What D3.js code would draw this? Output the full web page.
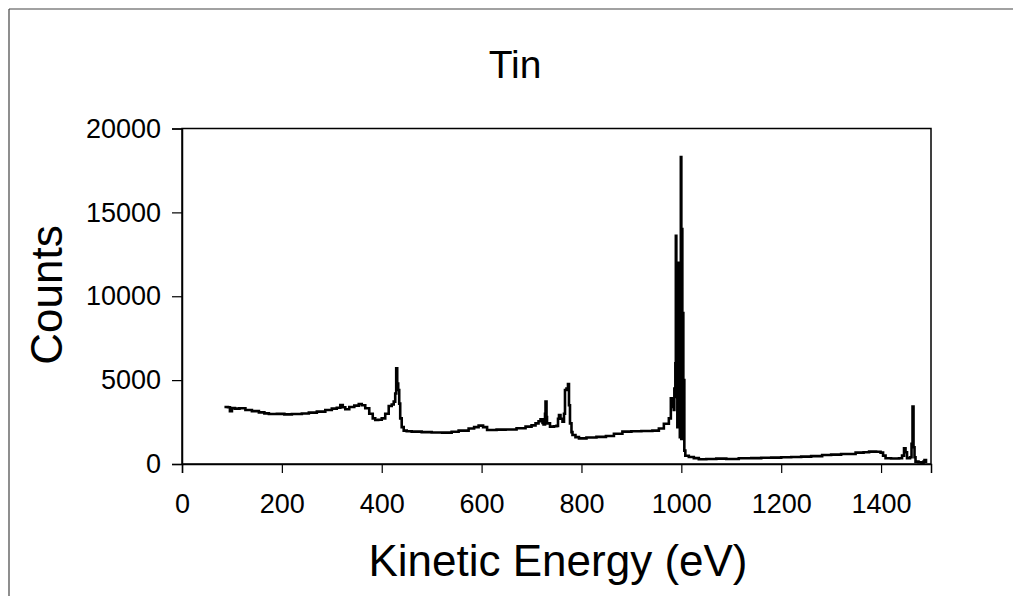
<!DOCTYPE html>
<html>
<head>
<meta charset="utf-8">
<script src="https://cdn.jsdelivr.net/npm/d3@7"></script>
<style>
  body { margin: 0; background: #fff; }
  text { font-family: Arial, "Liberation Sans", sans-serif; fill: #000; }
</style>
</head>
<body>
<div id="chart"></div>
<script>
// Tin – XPS survey spectrum (counts vs kinetic energy)

const energy = [
  85, 92, 96, 100, 106, 115, 127, 140, 154, 165, 174, 190, 205, 220, 240, 254, 270, 287,
  300, 310, 317, 322, 327, 335, 345, 354, 360, 367, 375, 382, 387, 393, 400, 407, 414,
  420, 424, 427, 429, 431, 433, 435, 437, 440, 444, 450, 460, 480, 500, 521, 540, 554,
  574, 585, 594, 603, 611, 630, 648, 670, 688, 700, 708, 714, 718, 722, 724, 727, 728,
  730, 731, 737, 745, 750, 753, 755, 758, 762, 765, 767, 770, 773, 775, 777, 780, 782,
  788, 795, 810, 830, 849, 865, 882, 900, 920, 942, 955, 965, 975, 979, 982, 985, 986,
  988, 989, 990, 991, 992, 994, 995, 996, 997, 998, 999, 1000, 1001, 1002, 1003, 1004,
  1005, 1006, 1008, 1015, 1025, 1035, 1050, 1070, 1090, 1115, 1140, 1160, 1180, 1200,
  1220, 1240, 1260, 1282, 1300, 1320, 1349, 1365, 1376, 1390, 1399, 1404, 1409, 1420,
  1436, 1442, 1446, 1449, 1452, 1458, 1461, 1463, 1465, 1467, 1469, 1475, 1481, 1485,
  1487, 1490
];
const counts = [
  3400, 3380, 3150, 3330, 3300, 3320, 3220, 3150, 3080, 3020, 2980, 2990, 2960, 2980, 3010, 3060, 3120, 3220,
  3300, 3350, 3520, 3380, 3260, 3400, 3480, 3580, 3500, 3320, 3000, 2720, 2620, 2640, 2720, 3000, 3460,
  3550, 3720, 4200, 5700, 4800, 4410, 3600, 2720, 2200, 1990, 1950, 1930, 1900, 1880, 1870, 1920, 1990,
  2120, 2200, 2290, 2200, 2030, 2050, 2060, 2130, 2230, 2300, 2420, 2550, 2660, 2450, 2360, 3000, 3720,
  2800, 2420, 2230, 2250, 2270, 2700, 2920, 2700, 2520, 3000, 4410, 4500, 4770, 3500, 2420, 1900, 1730,
  1600, 1530, 1580, 1620, 1670, 1800, 1930, 1950, 1970, 1990, 2120, 2400, 2720, 3920, 3400, 3220, 4500,
  6000, 13600, 4000, 9000, 2200, 12000, 3000, 8000, 1600, 10500, 18300, 1500, 14000, 2500, 9000, 1500,
  5000, 800, 490, 420, 350, 280, 300, 320, 300, 340, 350, 370, 380, 400,
  420, 440, 470, 540, 560, 600, 680, 700, 740, 730, 680, 500, 340, 330,
  340, 500, 930, 700, 340, 400, 1200, 3420, 1000, 400, 140, 100, 80, 150,
  240, 60
];
const xTicks = [0, 200, 400, 600, 800, 1000, 1200, 1400];
const yTicks = [0, 5000, 10000, 15000, 20000];

const width = 1013, height = 596;
const plot = { left: 182, right: 931, top: 128.5, bottom: 464 };

const svg = d3.select("#chart").append("svg")
  .attr("width", width).attr("height", height);

// page frame (scanned figure border)
svg.append("line").attr("x1", 9).attr("y1", 9).attr("x2", width).attr("y2", 9)
  .attr("stroke", "#444").attr("stroke-width", 1.2);
svg.append("line").attr("x1", 9).attr("y1", 9).attr("x2", 9).attr("y2", height)
  .attr("stroke", "#444").attr("stroke-width", 1.2);

const x = d3.scaleLinear().domain([0, 1500]).range([plot.left, plot.right]);
const y = d3.scaleLinear().domain([0, 20000]).range([plot.bottom, plot.top]);

// plot box
svg.append("rect")
  .attr("x", plot.left).attr("y", plot.top)
  .attr("width", plot.right - plot.left).attr("height", plot.bottom - plot.top)
  .attr("fill", "none").attr("stroke", "#000").attr("stroke-width", 1.5);

// axes
svg.append("g").attr("transform", `translate(0,${plot.bottom})`)
  .call(d3.axisBottom(x).tickValues(xTicks).tickSize(9).tickPadding(21).tickFormat(d3.format("d")))
  .call(ax => ax.select(".domain").attr("stroke", "#000").attr("stroke-width", 1.5))
  .call(ax => ax.selectAll("line").attr("stroke", "#000").attr("stroke-width", 1.2))
  .selectAll("text").attr("font-size", 27).attr("font-family", "Arial, 'Liberation Sans', sans-serif").attr("fill", "#000");

svg.append("g").attr("transform", `translate(${plot.left},0)`)
  .call(d3.axisLeft(y).tickValues(yTicks).tickSize(10).tickPadding(11).tickFormat(d3.format("d")))
  .call(ax => ax.select(".domain").attr("stroke", "#000").attr("stroke-width", 1.5))
  .call(ax => ax.selectAll("line").attr("stroke", "#000").attr("stroke-width", 1.2))
  .selectAll("text").attr("font-size", 27).attr("font-family", "Arial, 'Liberation Sans', sans-serif").attr("fill", "#000");

// spectrum (scanned trace looks stepped and heavy)
const pts = energy.map((e, i) => [e, counts[i]]);
svg.append("path")
  .datum(pts)
  .attr("fill", "none")
  .attr("stroke", "#000")
  .attr("stroke-width", 2.6)
  .attr("stroke-linejoin", "miter")
  .attr("d", d3.line().x(d => x(d[0])).y(d => y(d[1])).curve(d3.curveStepAfter));

// labels
svg.append("text").attr("x", 515).attr("y", 78)
  .attr("text-anchor", "middle").attr("font-size", 39).text("Tin");

svg.append("text").attr("x", 558).attr("y", 576)
  .attr("text-anchor", "middle").attr("font-size", 44).text("Kinetic Energy (eV)");

svg.append("text").attr("transform", "translate(62,295) rotate(-90)")
  .attr("text-anchor", "middle").attr("font-size", 44).text("Counts");
</script>
</body>
</html>
